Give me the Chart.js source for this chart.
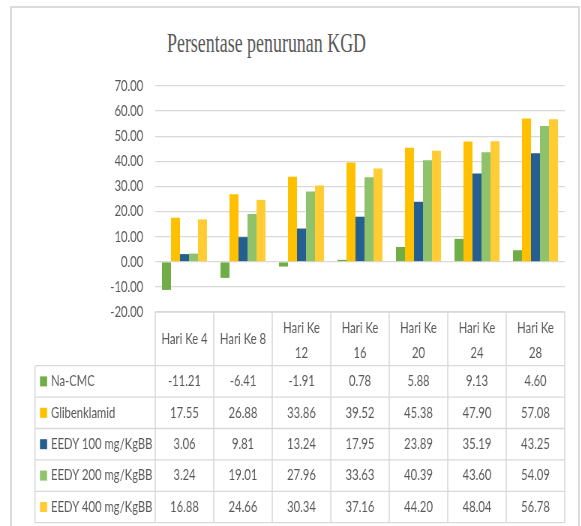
<!DOCTYPE html>
<html>
<head>
<meta charset="utf-8">
<title>Persentase penurunan KGD</title>
<script src="https://cdn.jsdelivr.net/npm/chart.js@4/dist/chart.umd.min.js"></script>
<style>
    html, body { margin: 0; padding: 0; background: #fff; }
    body { width: 581px; height: 526px; position: relative; overflow: hidden; }
    #frame {
        position: absolute; left: 10px; top: 6px; width: 570px; height: 560px;
        border: 2px solid #dcdcdc; box-sizing: border-box;
    }
    #title {
        position: absolute; left: 0; top: 29px; width: 533px;
        text-align: center; white-space: nowrap;
        font: 28px/28px 'Liberation Serif', 'Times New Roman', serif;
        color: #595959;
        transform: scaleX(0.64); transform-origin: 266.5px 50%;
    }
    /* chart is drawn wide and squeezed, like the narrow source picture */
    #wrap {
        position: absolute; left: 0; top: 0; width: 775px; height: 526px;
        transform: scaleX(0.75); transform-origin: 0 0;
    }
</style>
</head>
<body>
<div id="frame"></div>
<div id="title">Persentase penurunan KGD</div>
<div id="wrap"><canvas id="kgdChart"></canvas></div>

<script>
// ── Data ─────────────────────────────────────────────────────
const categories   = ['Hari Ke 4', 'Hari Ke 8', 'Hari Ke 12', 'Hari Ke 16', 'Hari Ke 20', 'Hari Ke 24', 'Hari Ke 28'];
const naCmc        = [-11.21, -6.41, -1.91, 0.78, 5.88, 9.13, 4.60];
const glibenklamid = [17.55, 26.88, 33.86, 39.52, 45.38, 47.90, 57.08];
const eedy100      = [3.06, 9.81, 13.24, 17.95, 23.89, 35.19, 43.25];
const eedy200      = [3.24, 19.01, 27.96, 33.63, 40.39, 43.60, 54.09];
const eedy400      = [16.88, 24.66, 30.34, 37.16, 44.20, 48.04, 56.78];
const seriesNames  = ['Na-CMC', 'Glibenklamid', 'EEDY 100 mg/KgBB', 'EEDY 200 mg/KgBB', 'EEDY 400 mg/KgBB'];
const yTicks       = [-20, -10, 0, 10, 20, 30, 40, 50, 60, 70];

(function () {
    'use strict';

    const FONT_FAMILY = "Lato, 'Liberation Sans', sans-serif";
    const TEXT_COLOR  = '#595959';
    const GRID_COLOR  = '#d9d9d9';
    const COLORS      = ['#70ad47', '#ffc000', '#255e91', '#8fc26a', '#ffcd33'];

    const seriesData = [naCmc, glibenklamid, eedy100, eedy200, eedy400];

    // ── Data table under the plot (Excel style) ──────────────────
    const TABLE_LEFT = 46.7;
    const HEADER_H   = 53.7;
    const ROW_H      = 31.4;

    const dataTable = {
        id: 'dataTable',
        afterDraw(chart) {
            const ctx  = chart.ctx;
            const area = chart.chartArea;
            const xs   = chart.scales.x;
            const n    = categories.length;
            const colW = (area.right - area.left) / n;
            const top  = area.bottom;
            const rowsTop = top + HEADER_H;
            const bottom  = rowsTop + ROW_H * seriesNames.length;

            ctx.save();
            ctx.strokeStyle = GRID_COLOR;
            ctx.fillStyle   = TEXT_COLOR;
            ctx.font        = '15px ' + FONT_FAMILY;
            ctx.textAlign   = 'center';
            ctx.textBaseline = 'middle';

            // grid lines
            ctx.lineWidth = 1.3;
            ctx.beginPath();
            ctx.moveTo(area.left, top);
            ctx.lineTo(area.right, top);
            for (let r = 0; r <= seriesNames.length; r++) {
                const y = rowsTop + r * ROW_H;
                ctx.moveTo(TABLE_LEFT, y);
                ctx.lineTo(area.right, y);
            }
            ctx.stroke();
            ctx.lineWidth = 1.6;
            ctx.beginPath();
            for (let i = 0; i <= n; i++) {
                const x = area.left + i * colW;
                ctx.moveTo(x, top);
                ctx.lineTo(x, bottom);
            }
            ctx.moveTo(TABLE_LEFT, rowsTop);
            ctx.lineTo(TABLE_LEFT, bottom);
            ctx.stroke();

            // header labels, wrapped when too wide for the cell
            const midHead = top + HEADER_H / 2;
            categories.forEach((label, i) => {
                const cx = xs.getPixelForValue(i);
                if (ctx.measureText(label).width > colW - 14) {
                    const cut = label.lastIndexOf(' ');
                    ctx.fillText(label.slice(0, cut), cx, midHead - 11);
                    ctx.fillText(label.slice(cut + 1), cx, midHead + 14);
                } else {
                    ctx.fillText(label, cx, midHead);
                }
            });

            // rows: legend key, name, values
            seriesNames.forEach((name, r) => {
                const cy = rowsTop + r * ROW_H + ROW_H / 2;
                ctx.fillStyle = COLORS[r];
                ctx.fillRect(53.3, cy - 5, 9.5, 10);
                ctx.fillStyle = TEXT_COLOR;
                ctx.textAlign = 'left';
                ctx.fillText(name, 68, cy);
                ctx.textAlign = 'center';
                seriesData[r].forEach((v, i) => {
                    ctx.fillText(v.toFixed(2), xs.getPixelForValue(i), cy);
                });
            });
            ctx.restore();
        }
    };

    // ── Clustered column chart ───────────────────────────────────
    const ctx = document.getElementById('kgdChart');

    new Chart(ctx, {
        type: 'bar',
        data: {
            labels: categories,
            datasets: seriesNames.map((name, i) => ({
                label:           name,
                data:            seriesData[i],
                backgroundColor: COLORS[i],
                borderWidth:     0,
                barPercentage:   1.0,
                categoryPercentage: 0.77
            }))
        },
        options: {
            responsive: true,
            maintainAspectRatio: false,
            animation: false,
            layout: { padding: { top: 86, right: 22, bottom: 214, left: 0 } },
            plugins: {
                legend:  { display: false },
                title:   { display: false },
                tooltip: { enabled: false }
            },
            scales: {
                x: { display: false },
                y: {
                    min: -20,
                    max: 70,
                    afterFit: s => { s.width = 207; },
                    afterBuildTicks: s => { s.ticks = yTicks.map(v => ({ value: v })); },
                    border: { display: false },
                    grid:  { color: GRID_COLOR, lineWidth: 1.3, drawTicks: false },
                    ticks: {
                        color:   TEXT_COLOR,
                        padding: 16,
                        font:    { family: FONT_FAMILY, size: 15 },
                        callback: v => Number(v).toFixed(2)
                    }
                }
            }
        },
        plugins: [dataTable]
    });
})();
</script>
</body>
</html>
